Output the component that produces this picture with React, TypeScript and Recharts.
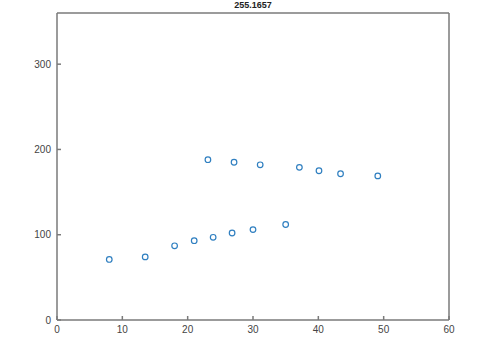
import React from 'react';
import { ScatterChart, Scatter, XAxis, YAxis } from 'recharts';

const lowerX = [8, 13.5, 18, 21, 23.9, 26.8, 30, 35];
const lowerY = [71, 74, 87, 93, 97, 102, 106, 112];
const upperX = [23.1, 27.1, 31.1, 37.1, 40.1, 43.4, 49.1];
const upperY = [188, 185, 182, 179, 175, 171.5, 169];

const xTicks = [0, 10, 20, 30, 40, 50, 60];
const yTicks = [0, 100, 200, 300];
const titleText = '255.1657';

const points = [
    ...lowerX.map((x, i) => ({ x, y: lowerY[i] })),
    ...upperX.map((x, i) => ({ x, y: upperY[i] })),
];

const axisColor = '#7a7a7a';
const tickStyle = { fill: '#444', fontSize: 10, fontFamily: 'Liberation Sans, Arial, sans-serif' };

const OpenCircle = (props: any) => (
    <circle cx={props.cx} cy={props.cy} r={2.8} fill="none" stroke="#2f7fc0" strokeWidth={1.2} />
);

export default function App() {
    return (
        <div style={{ position: 'absolute', left: 0, top: 0, width: 490, height: 343, background: '#fff', overflow: 'hidden' }}>
            <div
                style={{
                    position: 'absolute',
                    top: 0,
                    left: 57,
                    width: 392,
                    textAlign: 'center',
                    fontSize: 9,
                    lineHeight: '10px',
                    fontWeight: 'bold',
                    fontFamily: 'Liberation Sans, Arial, sans-serif',
                    color: '#222',
                }}
            >
                {titleText}
            </div>
            <ScatterChart width={490} height={343} margin={{ top: 12, right: 40, bottom: 3, left: 7 }}>
                <XAxis
                    xAxisId="top"
                    orientation="top"
                    type="number"
                    dataKey="x"
                    domain={[0, 60]}
                    ticks={xTicks}
                    height={1}
                    tick={false}
                    tickSize={-4}
                    stroke={axisColor}
                    strokeWidth={1.5}
                />
                <YAxis
                    yAxisId="right"
                    orientation="right"
                    type="number"
                    dataKey="y"
                    domain={[0, 360]}
                    ticks={yTicks}
                    width={1}
                    tick={false}
                    tickSize={-4}
                    stroke={axisColor}
                    strokeWidth={1.5}
                />
                <XAxis
                    type="number"
                    dataKey="x"
                    domain={[0, 60]}
                    ticks={xTicks}
                    height={20}
                    tick={tickStyle}
                    tickSize={-4}
                    tickMargin={10}
                    stroke={axisColor}
                    strokeWidth={1.5}
                />
                <YAxis
                    type="number"
                    dataKey="y"
                    domain={[0, 360]}
                    ticks={yTicks}
                    width={50}
                    tick={tickStyle}
                    tickSize={-4}
                    tickMargin={10}
                    stroke={axisColor}
                    strokeWidth={1.5}
                />
                <Scatter data={points} shape={OpenCircle} isAnimationActive={false} />
            </ScatterChart>
        </div>
    );
}
